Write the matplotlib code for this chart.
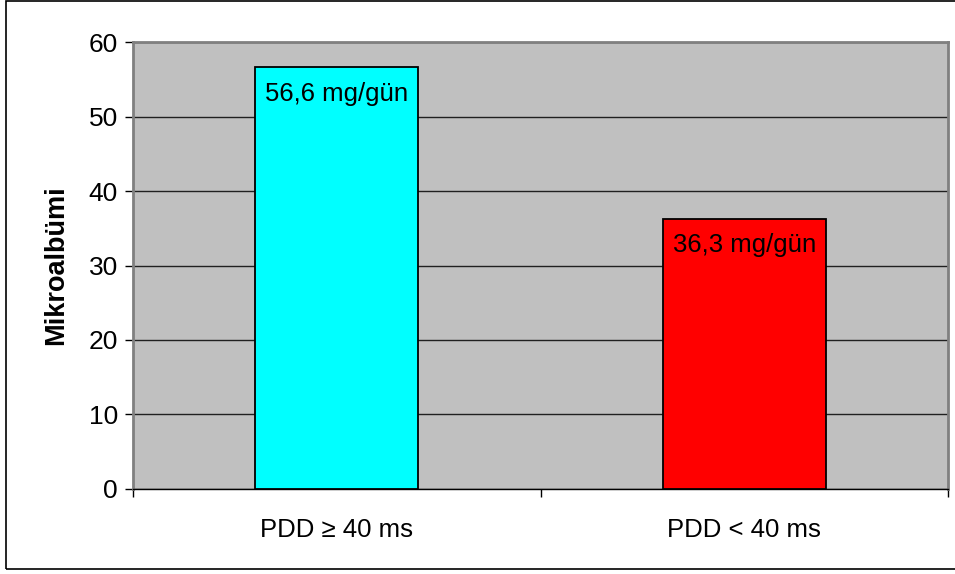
import matplotlib.pyplot as plt
from matplotlib.patches import Rectangle

plt.rcParams['font.family'] = ['Liberation Sans', 'DejaVu Sans']

# Mean microalbumin per PDD group
groups = ['PDD ≥ 40 ms', 'PDD < 40 ms']
values = [56.6, 36.3]
value_labels = ['56,6 mg/gün', '36,3 mg/gün']
bar_colors = ['#00FFFF', '#FF0000']

fig = plt.figure(figsize=(9.55, 5.74), dpi=100)
ax = fig.add_axes([0.1393, 0.1481, 0.8534, 0.7787])

# outer chart frame (right side runs off the image)
fig.patches.append(Rectangle((0.0063, 0.0087), 1.2, 0.989, transform=fig.transFigure,
                             fill=False, edgecolor='black', linewidth=1.2))

ax.set_facecolor('#C0C0C0')
x = range(len(groups))
ax.bar(x, values, width=0.40, color=bar_colors, edgecolor='black', linewidth=1.3, zorder=3)

for xi, v, lab in zip(x, values, value_labels):
    ax.annotate(lab, (xi, v), xytext=(0, -19), textcoords='offset points',
                ha='center', va='center', fontsize=18.5, zorder=4)

ax.set_xlim(-0.5, 1.5)
ax.set_ylim(0, 60)
ax.set_yticks(range(0, 61, 10))
ax.yaxis.grid(True, color='#202020', linewidth=1.0, zorder=1)
ax.set_axisbelow(True)

ax.set_xticks([-0.5, 0.5, 1.5])
ax.set_xticklabels([])
ax.set_xticks(list(x), minor=True)
ax.set_xticklabels(groups, minor=True, fontsize=18.5)
ax.tick_params(axis='x', which='major', direction='out', length=6, width=1, color='black')
ax.tick_params(axis='x', which='minor', length=0, pad=21)
ax.tick_params(axis='y', direction='out', length=6, width=1, color='black', labelsize=19, pad=5)

for side in ['top', 'right', 'left']:
    ax.spines[side].set_color('#808080')
    ax.spines[side].set_linewidth(2)
ax.spines['bottom'].set_color('black')
ax.spines['bottom'].set_linewidth(1)

ax.set_ylabel('Mikroalbümi', fontsize=19.5, fontweight='bold', labelpad=14)

fig.savefig('out.png', dpi=100)
